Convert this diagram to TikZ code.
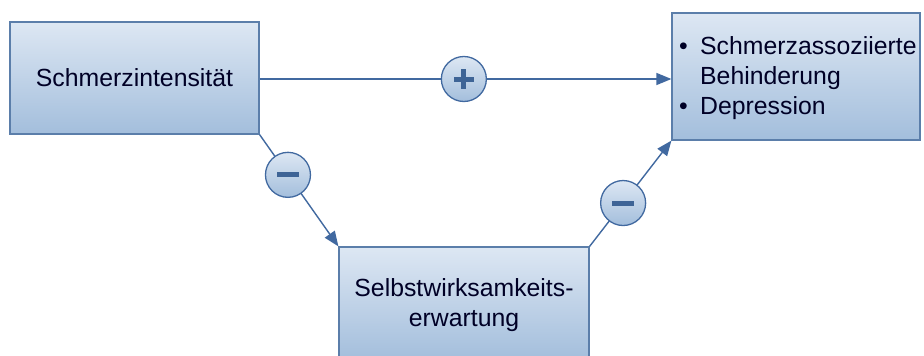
\documentclass[tikz,border=0pt]{standalone}
\usepackage{fontspec}
\setmainfont{Liberation Sans}
\usetikzlibrary{arrows.meta}
\definecolor{boxtop}{HTML}{DDE7F3}
\definecolor{boxbot}{HTML}{A3BEDC}
\definecolor{boxline}{HTML}{5B7EAA}
\definecolor{linkline}{HTML}{4169A0}
\definecolor{signcol}{HTML}{3E6496}
\tikzset{
  factor/.style={rectangle, draw=boxline, line width=1.2pt, top color=boxtop, bottom color=boxbot, inner sep=0pt},
  label text/.style={font=\fontsize{24.8}{30}\selectfont, text=black!85!blue, inner sep=0pt},
  link/.style={draw=linkline, line width=1.4pt, -{Triangle[length=15pt,width=12pt]}},
  signdisc/.style={circle, draw=linkline, line width=1.3pt, top color=boxtop, bottom color=boxbot, minimum size=45pt, inner sep=0pt},
}
\newcommand{\bul}{\makebox[21pt][l]{\textbullet}}
\begin{document}
\begin{tikzpicture}[x=1pt,y=-1pt]
\useasboundingbox (0,0) rectangle (924,356);
\clip (0,0) rectangle (924,356);
\fill[white] (0,0) rectangle (924,356);

% the three factors
\node[factor, minimum width=249pt, minimum height=112pt] (pain) at (134.5,78) {};
\node[label text] (painlbl) at (pain.center) {Schmerzintensität};

\node[factor, minimum width=248pt, minimum height=127pt] (outcome) at (796,76.5) {};
\node[label text, anchor=north west, align=left] (outlbl) at (679,36)
  {\bul Schmerzassoziierte\\\hspace*{21pt}Behinderung\\\bul Depression};

\node[factor, minimum width=250pt, minimum height=113pt] (selfeff) at (464,303.5) {};
\node[label text, align=center] (selflbl) at (464,305) {Selbstwirksamkeits-\\erwartung};

% connectors with their signs
\draw[link] (pain.east |- 0,79) -- node[pos=0.496, signdisc] (plus) {} (outcome.west |- 0,79);
\draw[link] (pain.south east) -- node[pos=0.36, signdisc] (minusA) {} (selfeff.north west);
\draw[link] (selfeff.north east) -- node[pos=0.41, signdisc] (minusB) {} (outcome.south west);

% plus and minus marks
\fill[signcol] ([xshift=-10pt,yshift=-2.5pt]plus.center) rectangle ([xshift=10pt,yshift=2.5pt]plus.center);
\fill[signcol] ([xshift=-2.5pt,yshift=-10pt]plus.center) rectangle ([xshift=2.5pt,yshift=10pt]plus.center);
\fill[signcol] ([xshift=-11pt,yshift=-2.5pt]minusA.center) rectangle ([xshift=11pt,yshift=2.5pt]minusA.center);
\fill[signcol] ([xshift=-11pt,yshift=-2.5pt]minusB.center) rectangle ([xshift=11pt,yshift=2.5pt]minusB.center);
\end{tikzpicture}
\end{document}
